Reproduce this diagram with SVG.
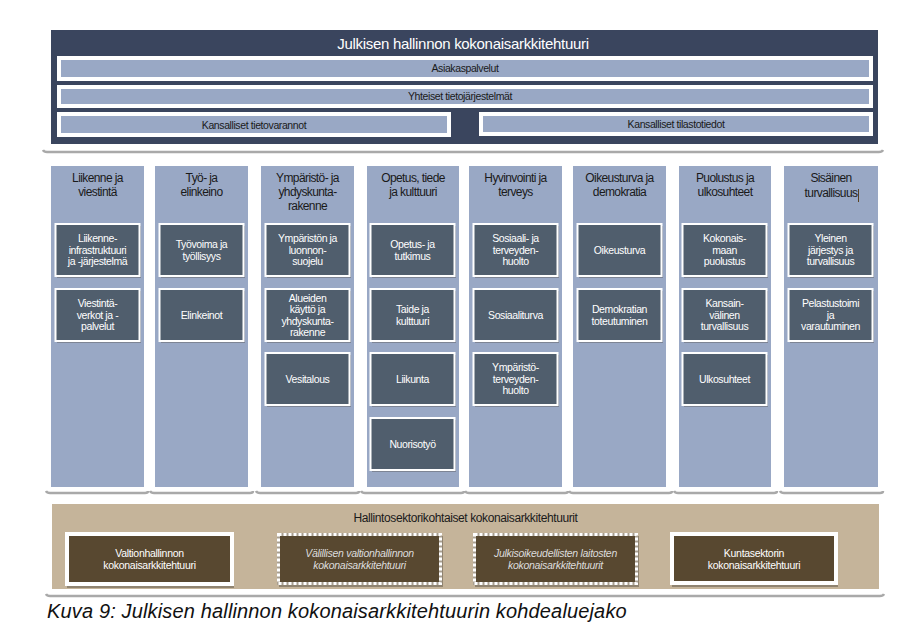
<svg xmlns="http://www.w3.org/2000/svg" width="906" height="636" viewBox="0 0 906 636">
<style>
text{font-family:"Liberation Sans",Arial,sans-serif;text-anchor:middle}
.panel{fill:#3a455e}
.bar{fill:#99a8c5;stroke:#fff;stroke-width:4}
.col{fill:#99a8c5}
.box{fill:#505e6d;stroke:#fff;stroke-width:2}
.shd{fill:#7d8494}
.sl{fill:none;stroke:#a9a9a9;stroke-width:2.5}
.tbar{font-size:10.5px;fill:#1a1a1a;letter-spacing:-0.4px}
.thead{font-size:12px;fill:#1a1a1a;letter-spacing:-0.6px}
.tbox{font-size:10.5px;fill:#fff;letter-spacing:-0.4px}
.tan{fill:#c5b49a}
.bbox{fill:#584830;stroke:#fff;stroke-width:4}
.dring{fill:#584830;stroke:#a89f90;stroke-width:3}
.dbox{fill:none;stroke:#fff;stroke-width:3;stroke-dasharray:3 2}
.bshd{fill:#8f8370}
.tb{font-size:10.5px;fill:#fff;letter-spacing:-0.3px}
.ti{font-size:10.5px;fill:#dcdcdc;font-style:italic;letter-spacing:-0.3px}
</style>

<g id="top">
<rect class="panel" x="51" y="30" width="827" height="114"/>
<text x="463" y="49" fill="#fff" style="font-size:15px;letter-spacing:-0.3px">Julkisen hallinnon kokonaisarkkitehtuuri</text>
</g>
<g id="asiakaspalvelut">
<rect class="bar" x="59" y="58" width="812" height="21"/>
<text class="tbar" x="465" y="72">Asiakaspalvelut</text>
</g>
<g id="yhteiset">
<rect class="bar" x="59" y="87" width="812" height="19"/>
<text class="tbar" x="460" y="100">Yhteiset tietojärjestelmät</text>
</g>
<g id="tietovarannot">
<rect class="bar" x="59" y="114" width="390" height="21"/>
<text class="tbar" x="254" y="129">Kansalliset tietovarannot</text>
</g>
<g id="tilastotiedot">
<rect class="bar" x="481" y="114" width="390" height="20"/>
<text class="tbar" x="676" y="128">Kansalliset tilastotiedot</text>
</g>

<g id="shadowlines">
<path class="sl" d="M43,150 Q44,152 47,152 L879,152 Q882,152 883,150"/>
<path class="sl" d="M46,491 Q47,493 50,493 L145,493 Q148,493 148,491"/>
<path class="sl" d="M150,491 Q151,493 154,493 L250,493 Q253,493 253,491"/>
<path class="sl" d="M256,491 Q257,493 260,493 L356,493 Q359,493 359,491"/>
<path class="sl" d="M361,491 Q362,493 365,493 L461,493 Q464,493 464,491"/>
<path class="sl" d="M465,491 Q466,493 469,493 L565,493 Q568,493 568,491"/>
<path class="sl" d="M569,491 Q570,493 573,493 L669,493 Q672,493 672,491"/>
<path class="sl" d="M674,491 Q675,493 678,493 L774,493 Q777,493 777,491"/>
<path class="sl" d="M780,491 Q781,493 784,493 L880,493 Q883,493 883,491"/>
<path class="sl" d="M46,594 Q47,596 50,596 L880,596 Q883,596 884,594"/>
</g>

<g id="col1">
<rect class="col" x="51" y="166" width="93" height="321"/>
<text class="thead" x="97.5" y="182">Liikenne ja</text>
<text class="thead" x="97.5" y="196">viestintä</text>
<rect class="shd" x="57" y="226" width="84" height="52"/>
<rect class="box" x="55.5" y="224" width="84" height="52"/>
<text class="tbox" x="97.5" y="242">Liikenne-</text>
<text class="tbox" x="97.5" y="253.5">infrastruktuuri</text>
<text class="tbox" x="97.5" y="265">ja -järjestelmä</text>
<rect class="shd" x="57" y="291" width="84" height="52"/>
<rect class="box" x="55.5" y="289" width="84" height="52"/>
<text class="tbox" x="97.5" y="307">Viestintä-</text>
<text class="tbox" x="97.5" y="318.5">verkot ja -</text>
<text class="tbox" x="97.5" y="330">palvelut</text>
</g>

<g id="col2">
<rect class="col" x="155" y="166" width="93" height="321"/>
<text class="thead" x="201.5" y="182">Työ- ja</text>
<text class="thead" x="201.5" y="196">elinkeino</text>
<rect class="shd" x="161" y="226" width="84" height="52"/>
<rect class="box" x="159.5" y="224" width="84" height="52"/>
<text class="tbox" x="201.5" y="248">Työvoima ja</text>
<text class="tbox" x="201.5" y="259.5">työllisyys</text>
<rect class="shd" x="161" y="291" width="84" height="52"/>
<rect class="box" x="159.5" y="289" width="84" height="52"/>
<text class="tbox" x="201.5" y="318.5">Elinkeinot</text>
</g>

<g id="col3">
<rect class="col" x="261" y="166" width="93" height="321"/>
<text class="thead" x="307.5" y="182">Ympäristö- ja</text>
<text class="thead" x="307.5" y="196">yhdyskunta-</text>
<text class="thead" x="307.5" y="210">rakenne</text>
<rect class="shd" x="267" y="226" width="84" height="52"/>
<rect class="box" x="265.5" y="224" width="84" height="52"/>
<text class="tbox" x="307.5" y="242">Ympäristön ja</text>
<text class="tbox" x="307.5" y="253.5">luonnon-</text>
<text class="tbox" x="307.5" y="265">suojelu</text>
<rect class="shd" x="267" y="291" width="84" height="52"/>
<rect class="box" x="265.5" y="289" width="84" height="52"/>
<text class="tbox" x="307.5" y="301.5">Alueiden</text>
<text class="tbox" x="307.5" y="313">käyttö ja</text>
<text class="tbox" x="307.5" y="324.5">yhdyskunta-</text>
<text class="tbox" x="307.5" y="336">rakenne</text>
<rect class="shd" x="267" y="355" width="84" height="52"/>
<rect class="box" x="265.5" y="353" width="84" height="52"/>
<text class="tbox" x="307.5" y="382.5">Vesitalous</text>
</g>

<g id="col4">
<rect class="col" x="367" y="166" width="92" height="321"/>
<text class="thead" x="413" y="182">Opetus, tiede</text>
<text class="thead" x="413" y="196">ja kulttuuri</text>
<rect class="shd" x="372" y="226" width="84" height="52"/>
<rect class="box" x="370.5" y="224" width="84" height="52"/>
<text class="tbox" x="412.5" y="248">Opetus- ja</text>
<text class="tbox" x="412.5" y="259.5">tutkimus</text>
<rect class="shd" x="372" y="291" width="84" height="52"/>
<rect class="box" x="370.5" y="289" width="84" height="52"/>
<text class="tbox" x="412.5" y="313">Taide ja</text>
<text class="tbox" x="412.5" y="324.5">kulttuuri</text>
<rect class="shd" x="372" y="355" width="84" height="52"/>
<rect class="box" x="370.5" y="353" width="84" height="52"/>
<text class="tbox" x="412.5" y="382.5">Liikunta</text>
<rect class="shd" x="372" y="420" width="84" height="52"/>
<rect class="box" x="370.5" y="418" width="84" height="52"/>
<text class="tbox" x="412.5" y="447.5">Nuorisotyö</text>
</g>

<g id="col5">
<rect class="col" x="469" y="166" width="93" height="321"/>
<text class="thead" x="515.5" y="182">Hyvinvointi ja</text>
<text class="thead" x="515.5" y="196">terveys</text>
<rect class="shd" x="475" y="226" width="84" height="52"/>
<rect class="box" x="473.5" y="224" width="84" height="52"/>
<text class="tbox" x="515.5" y="242">Sosiaali- ja</text>
<text class="tbox" x="515.5" y="253.5">terveyden-</text>
<text class="tbox" x="515.5" y="265">huolto</text>
<rect class="shd" x="475" y="291" width="84" height="52"/>
<rect class="box" x="473.5" y="289" width="84" height="52"/>
<text class="tbox" x="515.5" y="318.5">Sosiaaliturva</text>
<rect class="shd" x="475" y="355" width="84" height="52"/>
<rect class="box" x="473.5" y="353" width="84" height="52"/>
<text class="tbox" x="515.5" y="371">Ympäristö-</text>
<text class="tbox" x="515.5" y="382.5">terveyden-</text>
<text class="tbox" x="515.5" y="394">huolto</text>
</g>

<g id="col6">
<rect class="col" x="573" y="166" width="93" height="321"/>
<text class="thead" x="619.5" y="182">Oikeusturva ja</text>
<text class="thead" x="619.5" y="196">demokratia</text>
<rect class="shd" x="579" y="226" width="84" height="52"/>
<rect class="box" x="577.5" y="224" width="84" height="52"/>
<text class="tbox" x="619.5" y="253.5">Oikeusturva</text>
<rect class="shd" x="579" y="291" width="84" height="52"/>
<rect class="box" x="577.5" y="289" width="84" height="52"/>
<text class="tbox" x="619.5" y="313">Demokratian</text>
<text class="tbox" x="619.5" y="324.5">toteutuminen</text>
</g>

<g id="col7">
<rect class="col" x="679" y="166" width="92" height="321"/>
<text class="thead" x="725" y="182">Puolustus ja</text>
<text class="thead" x="725" y="196">ulkosuhteet</text>
<rect class="shd" x="684" y="226" width="84" height="52"/>
<rect class="box" x="682.5" y="224" width="84" height="52"/>
<text class="tbox" x="724.5" y="242">Kokonais-</text>
<text class="tbox" x="724.5" y="253.5">maan</text>
<text class="tbox" x="724.5" y="265">puolustus</text>
<rect class="shd" x="684" y="291" width="84" height="52"/>
<rect class="box" x="682.5" y="289" width="84" height="52"/>
<text class="tbox" x="724.5" y="307">Kansain-</text>
<text class="tbox" x="724.5" y="318.5">välinen</text>
<text class="tbox" x="724.5" y="330">turvallisuus</text>
<rect class="shd" x="684" y="355" width="84" height="52"/>
<rect class="box" x="682.5" y="353" width="84" height="52"/>
<text class="tbox" x="724.5" y="382.5">Ulkosuhteet</text>
</g>

<g id="col8">
<rect class="col" x="784" y="166" width="94" height="321"/>
<text class="thead" x="831" y="182">Sisäinen</text>
<text class="thead" x="831" y="197">turvallisuus</text>
<line x1="858.5" y1="189" x2="858.5" y2="202" stroke="#5a4222" stroke-width="1"/>
<rect class="shd" x="790" y="226" width="84" height="52"/>
<rect class="box" x="788.5" y="224" width="84" height="52"/>
<text class="tbox" x="830.5" y="242">Yleinen</text>
<text class="tbox" x="830.5" y="253.5">järjestys ja</text>
<text class="tbox" x="830.5" y="265">turvallisuus</text>
<rect class="shd" x="790" y="291" width="84" height="52"/>
<rect class="box" x="788.5" y="289" width="84" height="52"/>
<text class="tbox" x="830.5" y="307">Pelastustoimi</text>
<text class="tbox" x="830.5" y="318.5">ja</text>
<text class="tbox" x="830.5" y="330">varautuminen</text>
</g>

<g id="sector">
<rect class="tan" x="52" y="504" width="827" height="85"/>
<text x="465.5" y="521.5" fill="#1a1a1a" style="font-size:12px;letter-spacing:-0.4px">Hallintosektorikohtaiset kokonaisarkkitehtuurit</text>
</g>
<g id="valtionhallinto">
<rect class="bshd" x="67" y="536" width="167" height="52"/>
<rect class="bbox" x="67" y="534" width="165" height="50"/>
<text class="tb" x="149.5" y="557">Valtionhallinnon</text>
<text class="tb" x="149.5" y="569">kokonaisarkkitehtuuri</text>
</g>
<g id="valillinen">
<rect class="bshd" x="279" y="536" width="164" height="51"/>
<rect class="dring" x="278.5" y="534.5" width="162" height="49"/>
<rect class="dbox" x="278.5" y="534.5" width="162" height="49"/>
<text class="ti" x="359.5" y="557">Välillisen valtionhallinnon</text>
<text class="ti" x="359.5" y="569">kokonaisarkkitehtuuri</text>
</g>
<g id="julkisoikeudelliset">
<rect class="bshd" x="475" y="536" width="164" height="51"/>
<rect class="dring" x="474.5" y="534.5" width="162" height="49"/>
<rect class="dbox" x="474.5" y="534.5" width="162" height="49"/>
<text class="ti" x="555.5" y="557">Julkisoikeudellisten laitosten</text>
<text class="ti" x="555.5" y="569">kokonaisarkkitehtuurit</text>
</g>
<g id="kuntasektori">
<rect class="bshd" x="672" y="536" width="166" height="51"/>
<rect class="bbox" x="672" y="534" width="164" height="49"/>
<text class="tb" x="754" y="557">Kuntasektorin</text>
<text class="tb" x="754" y="569">kokonaisarkkitehtuuri</text>
</g>

<text x="47" y="618" fill="#111" style="text-anchor:start;font-size:20px;font-style:italic;letter-spacing:0.15px">Kuva 9: Julkisen hallinnon kokonaisarkkitehtuurin kohdealuejako</text>
</svg>
